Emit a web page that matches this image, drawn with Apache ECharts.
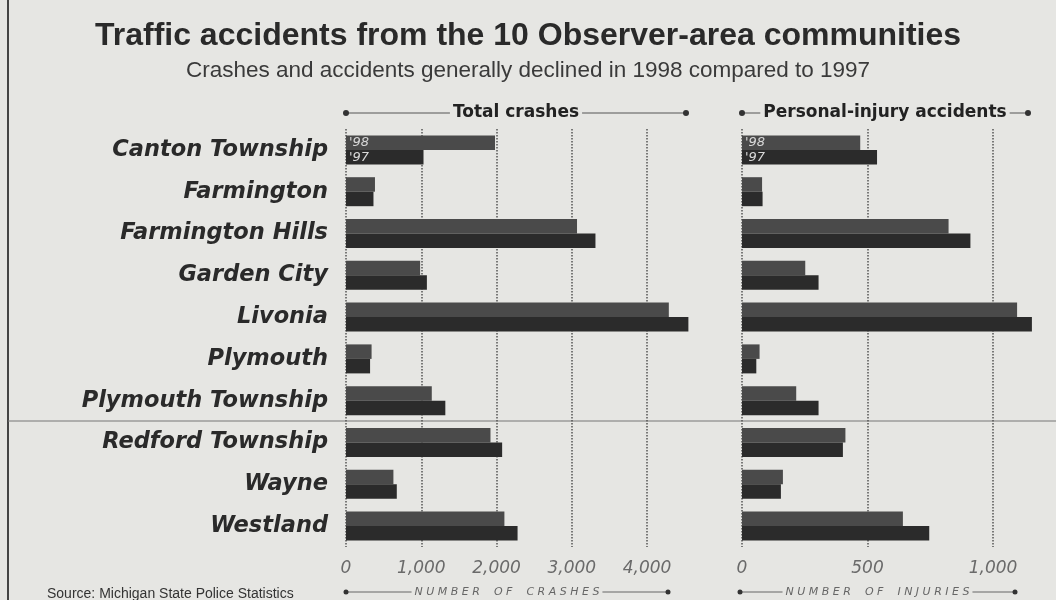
<!DOCTYPE html>
<html><head><meta charset="utf-8">
<script src="https://cdn.jsdelivr.net/npm/echarts@6/dist/echarts.min.js"></script>
<style>html,body{margin:0;padding:0;background:#e6e6e3}#c{width:1056px;height:600px}</style>
</head><body><div id="c"></div>
<script>
const categories = ['Canton Township','Farmington','Farmington Hills','Garden City','Livonia','Plymouth','Plymouth Township','Redford Township','Wayne','Westland'];
const crashes98 = [1980, 385, 3070, 985, 4290, 340, 1140, 1920, 630, 2105];
const crashes97 = [1030, 365, 3315, 1075, 4550, 320, 1320, 2075, 675, 2280];
const injuries98 = [471, 80, 823, 252, 1096, 70, 216, 412, 163, 641];
const injuries97 = [538, 82, 910, 305, 1155, 57, 305, 402, 155, 746];
const yearLabels = ["'98", "'97"];

const c98 = '#4a4a4a', c97 = '#2b2b2b';
function withLabel(arr, txt){
  return arr.map((v,i)=> i===0 ? {value:v, label:{show:true, formatter:txt, position:'insideLeft', distance:3, color:'#d8d8d8', fontStyle:'italic', fontSize:13, fontFamily:'DejaVu Sans'}} : v);
}
function headerLine(x1,x2,y,text){
  const cx=(x1+x2)/2;
  return [
    {type:'line', shape:{x1:x1,y1:y,x2:x2,y2:y}, style:{stroke:'#555',lineWidth:1}},
    {type:'circle', shape:{cx:x1,cy:y,r:3}, style:{fill:'#333'}},
    {type:'circle', shape:{cx:x2,cy:y,r:3}, style:{fill:'#333'}},
    {type:'text', x:cx, y:y, style:{text:text, fill:'#222', font:'bold 17px "DejaVu Sans"', align:'center', verticalAlign:'middle', backgroundColor:'#e6e6e3', padding:[0,3]}}
  ];
}
function footLine(x1,x2,y,text){
  const cx=(x1+x2)/2;
  return [
    {type:'line', shape:{x1:x1,y1:y,x2:x2,y2:y}, style:{stroke:'#666',lineWidth:1}},
    {type:'circle', shape:{cx:x1,cy:y,r:2.5}, style:{fill:'#333'}},
    {type:'circle', shape:{cx:x2,cy:y,r:2.5}, style:{fill:'#333'}},
    {type:'text', x:cx, y:y, style:{text:text, fill:'#666', font:'italic 11px "DejaVu Sans"', align:'center', verticalAlign:'middle', backgroundColor:'#e6e6e3', padding:[0,3]}}
  ];
}
const axisLab = {color:'#6a6a6a', fontStyle:'italic', fontSize:17, fontFamily:'DejaVu Sans', margin:13,
  formatter: v => v.toLocaleString('en-US')};
const chart = echarts.init(document.getElementById('c'));
chart.setOption({
  backgroundColor:'#e6e6e3',
  animation:false,
  title:[
    {text:'Traffic accidents from the 10 Observer-area communities', left:'center', top:15,
     textStyle:{fontFamily:'Liberation Sans', fontWeight:'bold', fontSize:32, color:'#2a2a2a'}},
    {text:'Crashes and accidents generally declined in 1998 compared to 1997', left:'center', top:54,
     textStyle:{fontFamily:'Liberation Sans', fontWeight:'normal', fontSize:22.5, color:'#3a3a3a'}},
    {text:'Source: Michigan State Police Statistics', left:42, top:582,
     textStyle:{fontFamily:'Liberation Sans', fontWeight:'normal', fontSize:14, color:'#333'}}
  ],
  grid:[
    {left:346, top:129, width:301, height:418},
    {left:742, top:129, width:251, height:418}
  ],
  xAxis:[
    {gridIndex:0, type:'value', min:0, max:4000, interval:1000, axisLine:{show:false}, axisTick:{show:false},
     splitLine:{lineStyle:{type:'dotted', color:'#555', width:1.5}}, axisLabel:axisLab},
    {gridIndex:1, type:'value', min:0, max:1000, interval:500, axisLine:{show:false}, axisTick:{show:false},
     splitLine:{lineStyle:{type:'dotted', color:'#555', width:1.5}}, axisLabel:axisLab}
  ],
  yAxis:[
    {gridIndex:0, type:'category', data:categories, inverse:true, axisLine:{show:false}, axisTick:{show:false},
     axisLabel:{color:'#2a2a2a', fontFamily:'DejaVu Sans', fontWeight:'bold', fontStyle:'italic', fontSize:22.5, margin:18}},
    {gridIndex:1, type:'category', data:categories, inverse:true, axisLine:{show:false}, axisTick:{show:false}, axisLabel:{show:false}}
  ],
  series:[
    {type:'bar', xAxisIndex:0, yAxisIndex:0, data:withLabel(crashes98, yearLabels[0]), barWidth:14.5, barGap:'0%', clip:false, itemStyle:{color:c98}},
    {type:'bar', xAxisIndex:0, yAxisIndex:0, data:withLabel(crashes97, yearLabels[1]), barWidth:14.5, barGap:'0%', clip:false, itemStyle:{color:c97}},
    {type:'bar', xAxisIndex:1, yAxisIndex:1, data:withLabel(injuries98, yearLabels[0]), barWidth:14.5, barGap:'0%', clip:false, itemStyle:{color:c98}},
    {type:'bar', xAxisIndex:1, yAxisIndex:1, data:withLabel(injuries97, yearLabels[1]), barWidth:14.5, barGap:'0%', clip:false, itemStyle:{color:c97}}
  ],
  graphic:[].concat(
    headerLine(346,686,113,'Total crashes'),
    headerLine(742,1028,113,'Personal-injury accidents'),
    footLine(346,668,592,'N U M B E R    O F    C R A S H E S'),
    footLine(740,1015,592,'N U M B E R    O F    I N J U R I E S'),
    [
      {type:'line', shape:{x1:8,y1:0,x2:8,y2:600}, style:{stroke:'#444',lineWidth:2}},
      {type:'line', shape:{x1:8,y1:421,x2:1056,y2:421}, style:{stroke:'#777',lineWidth:1}}
    ]
  )
});
</script></body></html>
